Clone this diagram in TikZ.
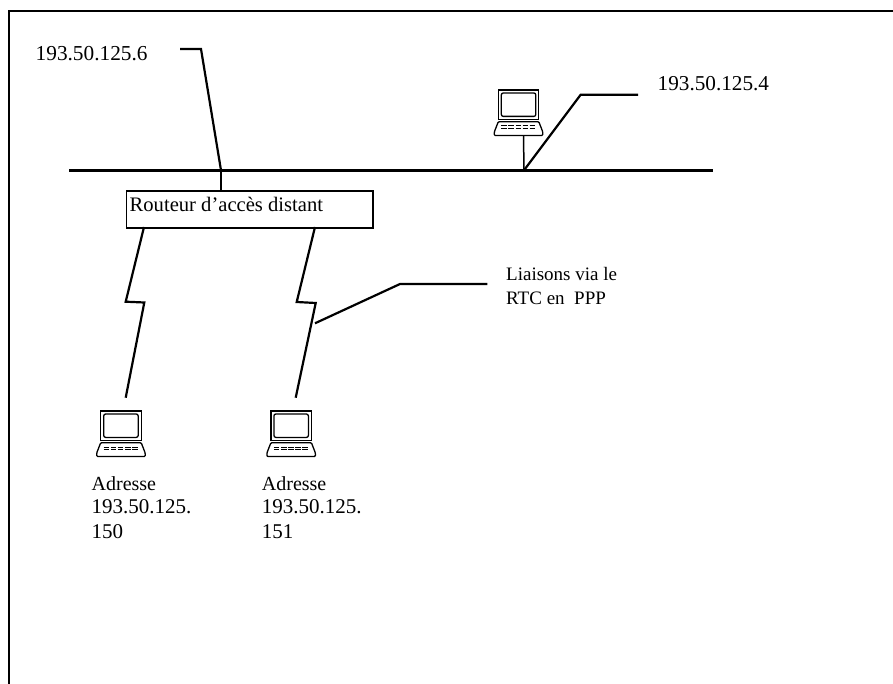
\documentclass[tikz,border=0pt]{standalone}
\usepackage{fontspec}
\setmainfont{Liberation Serif}
\tikzset{
  every picture/.style={x=1pt,y=-1pt},
  lbl/.style={anchor=base west,inner sep=0pt,font=\fontsize{21}{24}\selectfont,text=black},
  heavy/.style={line width=2.6pt,black},
  wire/.style={line width=2.2pt,black,line join=miter},
  thin wire/.style={line width=1.5pt,black},
  routerbox/.style={draw=black,line width=1.7pt,fill=white,inner sep=0pt,minimum width=246.5pt,minimum height=37pt,anchor=north west},
  pics/computer/.style={code={
    \draw[line width=1.3pt] (0,0) rectangle (40.5,29.6);
    \draw[line width=1.3pt,rounded corners=2pt] (3,3) rectangle (37.5,26.4);
    \draw[line width=1.3pt,line join=round,rounded corners=1pt] (0,31.7) -- (40.5,31.7) -- (44.5,42) -- (44.5,45.5) -- (-4,45.5) -- (-4,42) -- cycle;
    \draw[line width=1pt,dash pattern=on 5.5pt off 1.6pt] (3,36) -- (38,36);
    \draw[line width=1pt,dash pattern=on 5.5pt off 1.6pt] (3,38.2) -- (38,38.2);
  }}
}
\begin{document}
\begin{tikzpicture}
\useasboundingbox (0,0) rectangle (893,684);
\fill[white] (0,0) rectangle (893,684);
% outer frame: top and left only
\coordinate (fB) at (9,684);
\coordinate (fC) at (9,11);
\coordinate (fE) at (893,11);
\draw[line width=2.4pt,line cap=butt,line join=miter] (fB) -- (fC) -- (fE);
% bus
\coordinate (busW) at (69,170.3);
\coordinate (busE) at (712.7,170.3);
\coordinate (tapR) at (221,170.3);
\coordinate (tapC) at (524,170.3);
\draw[heavy] (busW) -- (busE);
% router
\node[routerbox] (router) at (125.7,190) {};
\node[lbl,font=\fontsize{20.6}{24}\selectfont] (routerlabel) at (129.5,212) {Routeur d’accès distant};
\draw[thin wire,line width=2pt] (tapR) -- (221,190);
% computers
\pic (pcA) at (100.7,411) {computer};
\pic (pcB) at (270.9,411) {computer};
\pic (pcC) at (498.3,90) {computer};
\coordinate (pcCbase) at (523.5,135.5);
\draw[thin wire] (pcCbase) -- (tapC);
% address leaders
\coordinate (a1) at (180,49);
\coordinate (a2) at (201,49);
\draw[wire] (a1) -- (a2) -- (tapR);
\coordinate (b1) at (580.7,94.7);
\coordinate (b2) at (638,94.7);
\draw[wire] (tapC) -- (b1) -- (b2);
% PPP links
\coordinate (l1) at (144,227);
\coordinate (l2) at (125.7,301.7);
\coordinate (l3) at (144.3,302.5);
\coordinate (l4) at (125.7,397.7);
\draw[wire] (l1) -- (l2) -- (l3) -- (l4);
\coordinate (m1) at (315,227);
\coordinate (m2) at (296.7,302);
\coordinate (m3) at (315.7,303);
\coordinate (m4) at (295.7,397.7);
\draw[wire] (m1) -- (m2) -- (m3) -- (m4);
\coordinate (n1) at (315,323.3);
\coordinate (n2) at (400,284);
\coordinate (n3) at (487.3,284);
\draw[wire] (n1) -- (n2) -- (n3);
% labels
\node[lbl,font=\fontsize{21.3}{24}\selectfont] (t6) at (35.5,61) {193.50.125.6};
\node[lbl,font=\fontsize{21.2}{24}\selectfont] (t4) at (657.5,91) {193.50.125.4};
\node[lbl,font=\fontsize{19}{24}\selectfont] (tl1) at (506,280) {Liaisons via le};
\node[lbl,font=\fontsize{19}{24}\selectfont] (tl2) at (506,305) {RTC en\ \ PPP};
\node[lbl,font=\fontsize{20}{24}\selectfont] (aa1) at (91.5,490) {Adresse};
\node[lbl] (aa2) at (91.5,513.3) {193.50.125.};
\node[lbl] (aa3) at (91.5,538.3) {150};
\node[lbl,font=\fontsize{20}{24}\selectfont] (ab1) at (261.7,490) {Adresse};
\node[lbl] (ab2) at (261.7,513.3) {193.50.125.};
\node[lbl] (ab3) at (261.7,538.3) {151};
\end{tikzpicture}
\end{document}
